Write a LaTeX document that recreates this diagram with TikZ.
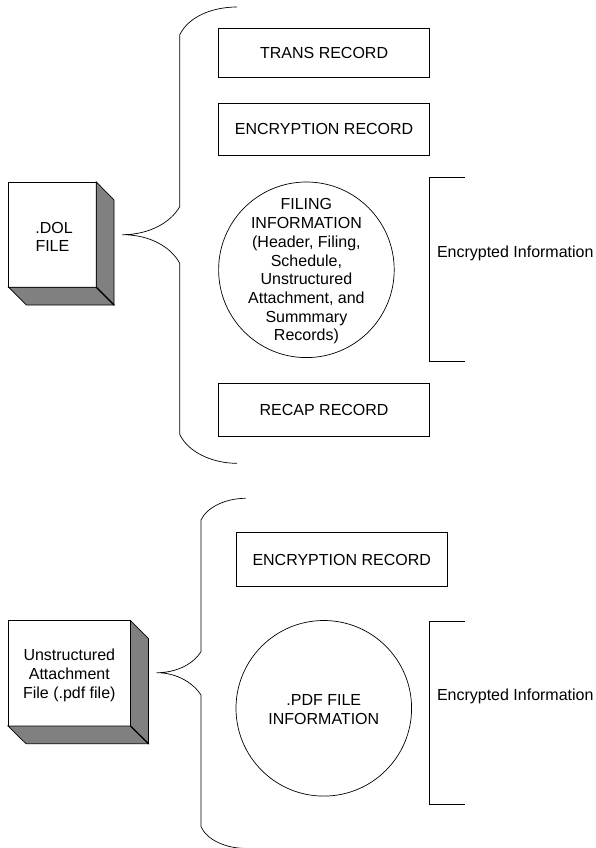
\documentclass[tikz,border=0pt]{standalone}
\usepackage{fontspec}
\setmainfont{Liberation Sans}
\usetikzlibrary{calc}
\newcommand{\toppad}[1]{\rule{0pt}{#1pt}}
\tikzset{
  x=1pt,y=-1pt,
  every node/.style={font=\fontsize{16}{18.7}\selectfont,inner sep=0pt,outer sep=0pt},
  line/.style={draw=black,line width=0.7pt},
  recbox/.style={line,rectangle,minimum width=211.2pt,align=center,text height=11.3pt,text depth=0pt},
  filebox/.style={line,rectangle,fill=white,align=center,line width=0.8pt},
  disc/.style={line,circle,minimum size=175.6pt,align=center,inner sep=-30pt},
  shade/.style={draw=black,line width=0.7pt,fill=gray50},
  label/.style={anchor=base west},
}
\definecolor{gray50}{HTML}{808080}
\begin{document}
\begin{tikzpicture}
\useasboundingbox (0,0) rectangle (595,848);
% upper group
\node[filebox,minimum width=87.8pt,minimum height=105.3pt] (dol) at (52.4,234.6) {\toppad{15.5}\hspace*{3.5pt}.DOL\\FILE};
\coordinate (dolne) at (114,200);
\coordinate (dolse) at (114,305);
\coordinate (dolsw) at (26.5,305);
\draw[shade] (dol.north east) -- (dolne) -- (dolse) -- (dol.south east) -- cycle;
\draw[shade] (dol.south west) -- (dolsw) -- (dolse) -- (dol.south east) -- cycle;
\draw[line width=1.2pt] (dol.south east) -- (dolse);
\node[recbox,minimum height=49pt] (trans) at (324.1,52.5) {TRANS RECORD};
\node[recbox,minimum height=52.5pt] (enc) at (324.1,129.25) {ENCRYPTION RECORD};
\node[disc] (fil) at (306.4,269.8) {\toppad{14.5}FILING\\INFORMATION\\(Header, Filing,\\Schedule,\\Unstructured\\Attachment, and\\Summmary\\Records)};
\node[recbox,minimum height=53pt] (recap) at (324.1,410) {RECAP RECORD};
\coordinate (bta) at (465,177.5);
\coordinate (btb) at (429.5,177.5);
\coordinate (btc) at (429.5,361);
\coordinate (btd) at (465,361);
\draw[line] (bta) -- (btb) -- (btc) -- (btd);
\node[label] (info1) at (437,257) {Encrypted Information};
\coordinate (ba) at (237,7);
\coordinate (bb) at (179.7,35);
\coordinate (bc) at (179.7,206.7);
\coordinate (tip1) at (122.3,234.7);
\coordinate (bd) at (179.7,263.3);
\coordinate (be) at (179.7,434.3);
\coordinate (bf) at (237,463.3);
\draw[line] (ba) .. controls (212,7) and (188,17) .. (bb) -- (bc)
  .. controls (171,222) and (150,234.7) .. (tip1)
  .. controls (150,234.7) and (171,247) .. (bd) -- (be)
  .. controls (188,452) and (212,463.3) .. (bf);
% lower group
\node[filebox,minimum width=122.5pt,minimum height=105.3pt] (unst) at (69.3,673.4) {\toppad{15.6}Unstructured\\Attachment\\File (.pdf file)};
\coordinate (unne) at (148.5,638.7);
\coordinate (unse) at (148.5,743.7);
\coordinate (unsw) at (26,743.7);
\draw[shade] (unst.north east) -- (unne) -- (unse) -- (unst.south east) -- cycle;
\draw[shade] (unst.south west) -- (unsw) -- (unse) -- (unst.south east) -- cycle;
\draw[line width=1.2pt] (unst.south east) -- (unse);
\node[recbox,minimum height=53.3pt] (enc2) at (341.7,559.4) {ENCRYPTION RECORD};
\node[disc] (pdf) at (323.8,708.3) {\toppad{13.5}.PDF FILE\\INFORMATION};
\coordinate (cta) at (465,621);
\coordinate (ctb) at (429.5,621);
\coordinate (ctc) at (429.5,804.5);
\coordinate (ctd) at (465,804.5);
\draw[line] (cta) -- (ctb) -- (ctc) -- (ctd);
\node[label] (info2) at (437,700) {Encrypted Information};
\coordinate (ca) at (245.7,498.3);
\coordinate (cb) at (201,520);
\coordinate (cc) at (201,651.7);
\coordinate (tip2) at (156.7,672.7);
\coordinate (cd) at (201,695);
\coordinate (ce) at (201,826.7);
\coordinate (cf) at (245.7,848.4);
\draw[line] (ca) .. controls (226,498.3) and (207,507) .. (cb) -- (cc)
  .. controls (194,663) and (178,672.7) .. (tip2)
  .. controls (178,672.7) and (194,684) .. (cd) -- (ce)
  .. controls (207,840) and (226,848.4) .. (cf);
\end{tikzpicture}
\end{document}
